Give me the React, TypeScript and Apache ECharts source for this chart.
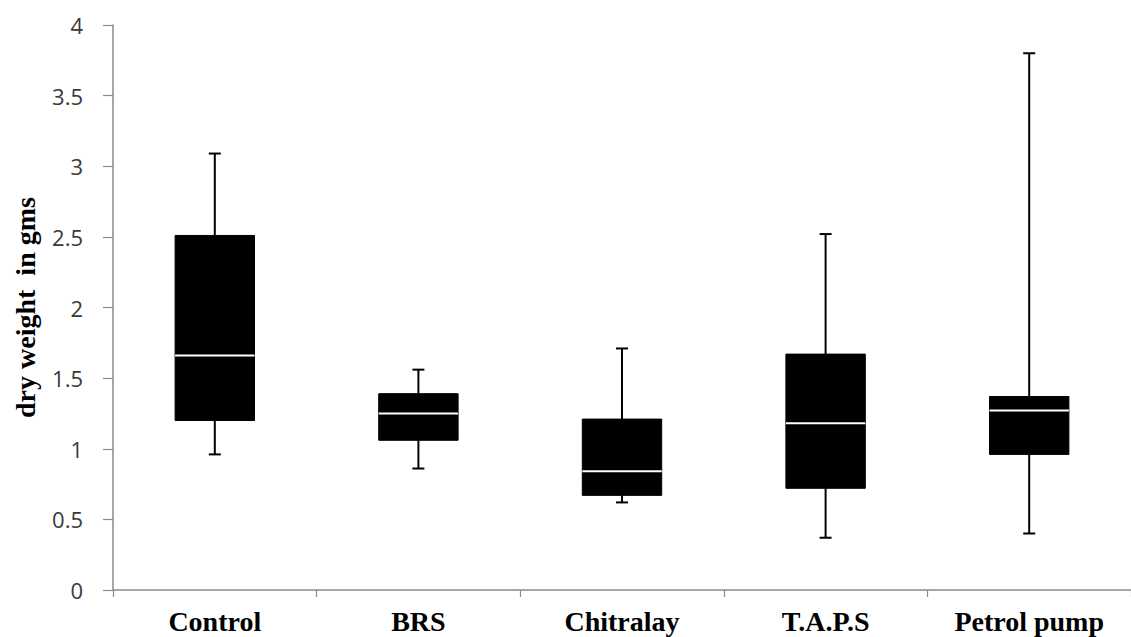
import React, { useEffect, useRef } from "react";
import * as echarts from "echarts";

const categories = ["Control", "BRS", "Chitralay", "T.A.P.S", "Petrol pump"];
const whiskerLow = [0.96, 0.86, 0.62, 0.37, 0.4];
const q1 = [1.2, 1.06, 0.67, 0.72, 0.96];
const median = [1.66, 1.25, 0.84, 1.18, 1.27];
const q3 = [2.51, 1.39, 1.21, 1.67, 1.37];
const whiskerHigh = [3.09, 1.56, 1.71, 2.52, 3.8];
const yTicks = { min: 0, max: 4, interval: 0.5 };

export default function App() {
  const ref = useRef<HTMLDivElement>(null);
  useEffect(() => {
    document.body.style.margin = "0";
    if (!ref.current) return;
    const chart = echarts.init(ref.current, null, { renderer: "svg" });
    const data = categories.map((_, i) => [i, whiskerLow[i], q1[i], median[i], q3[i], whiskerHigh[i]]);
    const axisGray = "#8a8a8a";
    chart.setOption({
      animation: false,
      backgroundColor: "#ffffff",
      grid: { left: 113, top: 25, bottom: 47, width: 1035 },
      xAxis: {
        type: "category",
        data: categories,
        boundaryGap: true,
        axisLine: { lineStyle: { color: axisGray, width: 1.5 } },
        axisTick: { show: true, length: 7, lineStyle: { color: axisGray, width: 1.2 } },
        axisLabel: {
          margin: 17,
          color: "#000",
          fontFamily: "Liberation Serif",
          fontWeight: "bold",
          fontSize: 28,
        },
      },
      yAxis: {
        type: "value",
        min: yTicks.min,
        max: yTicks.max,
        interval: yTicks.interval,
        name: "dry weight  in gms",
        nameLocation: "middle",
        nameGap: 74,
        nameTextStyle: {
          color: "#000",
          fontFamily: "Liberation Serif",
          fontWeight: "bold",
          fontSize: 28,
        },
        splitLine: { show: false },
        axisLine: { show: true, lineStyle: { color: axisGray, width: 1.5 } },
        axisTick: { show: true, length: 10, lineStyle: { color: axisGray, width: 1.2 } },
        axisLabel: {
          margin: 30,
          color: "#3a3a3a",
          fontFamily: "Open Sans",
          fontSize: 22,
        },
      },
      series: [
        {
          type: "custom",
          data,
          encode: { x: 0, y: [1, 2, 3, 4, 5] },
          renderItem: (params: any, api: any) => {
            const idx = api.value(0);
            const lo = api.coord([idx, api.value(1)]);
            const b1 = api.coord([idx, api.value(2)]);
            const md = api.coord([idx, api.value(3)]);
            const b3 = api.coord([idx, api.value(4)]);
            const hi = api.coord([idx, api.value(5)]);
            const band = api.size([1, 0])[0];
            const bw = band * 0.39;
            const cx = lo[0];
            const cap = 6;
            const lineStyle = { stroke: "#000", lineWidth: 2 };
            return {
              type: "group",
              children: [
                { type: "line", shape: { x1: cx, y1: hi[1], x2: cx, y2: b3[1] }, style: lineStyle },
                { type: "line", shape: { x1: cx, y1: b1[1], x2: cx, y2: lo[1] }, style: lineStyle },
                { type: "line", shape: { x1: cx - cap, y1: hi[1], x2: cx + cap, y2: hi[1] }, style: lineStyle },
                { type: "line", shape: { x1: cx - cap, y1: lo[1], x2: cx + cap, y2: lo[1] }, style: lineStyle },
                {
                  type: "rect",
                  shape: { x: cx - bw / 2, y: b3[1], width: bw, height: b1[1] - b3[1] },
                  style: { fill: "#000", stroke: "#000", lineWidth: 1 },
                },
                {
                  type: "line",
                  shape: { x1: cx - bw / 2, y1: md[1], x2: cx + bw / 2, y2: md[1] },
                  style: { stroke: "#fff", lineWidth: 2 },
                },
              ],
            };
          },
        },
      ],
    });
    return () => chart.dispose();
  }, []);
  return <div ref={ref} style={{ width: 1131, height: 637 }} />;
}
